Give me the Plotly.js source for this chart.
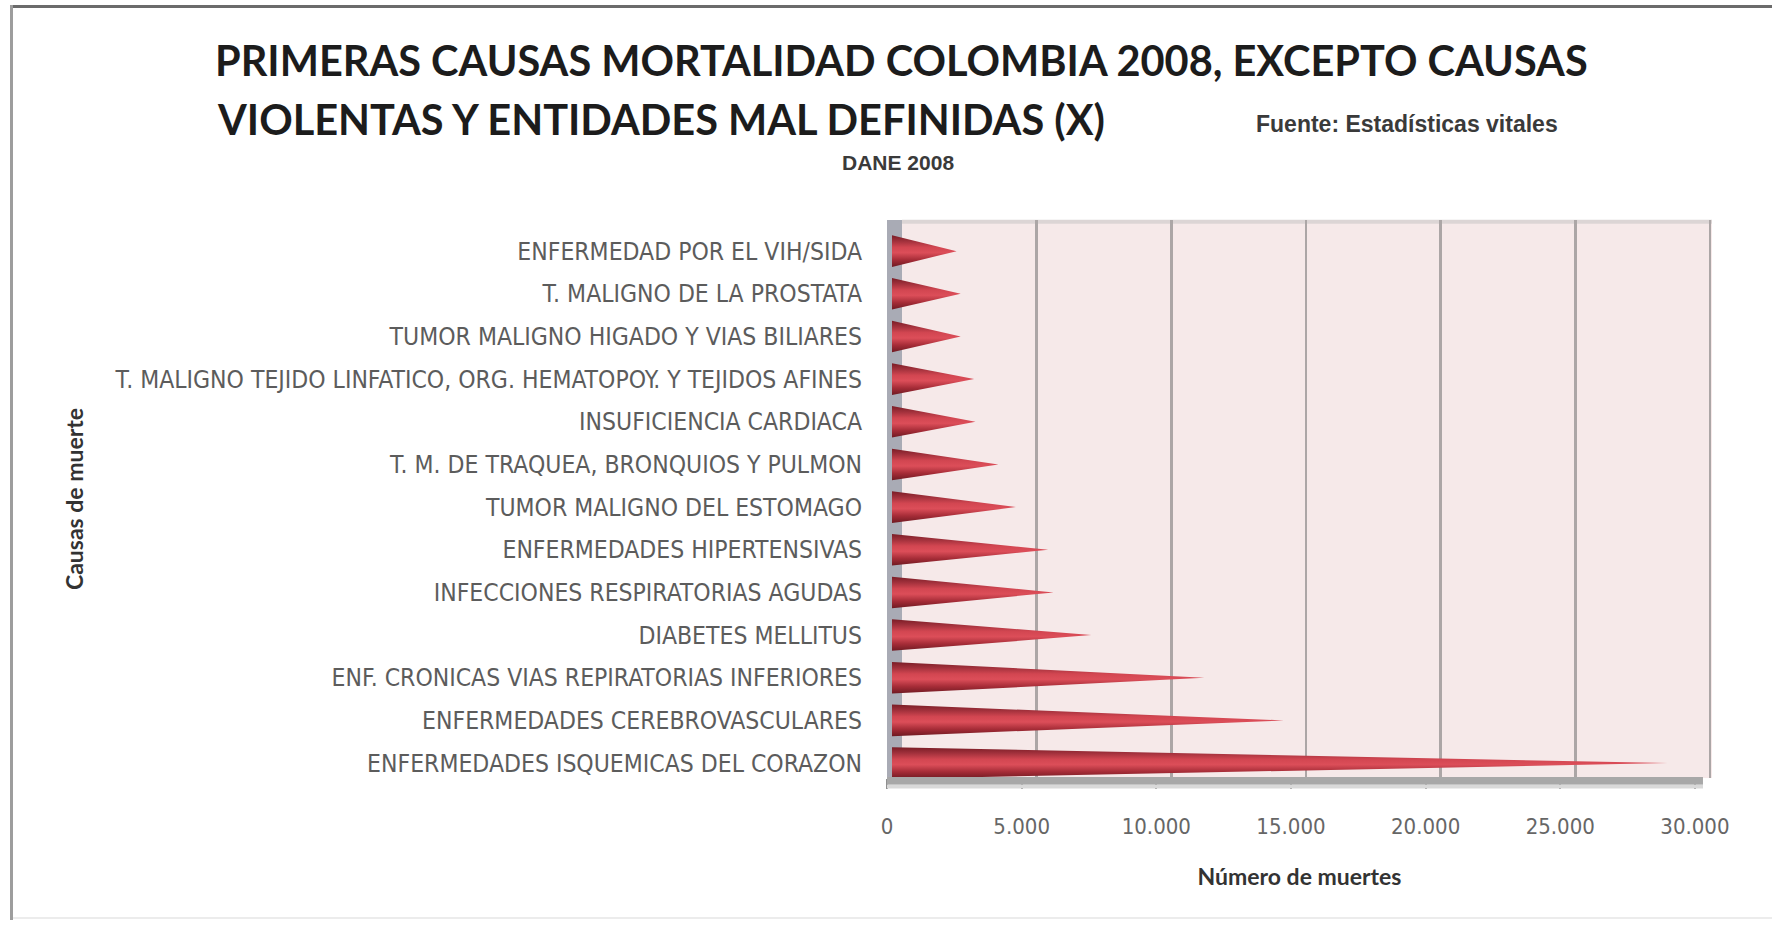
<!DOCTYPE html>
<html>
<head>
<meta charset="utf-8">
<script src="https://cdn.plot.ly/plotly-3.0.1.min.js"></script>
<style>
  html, body { margin:0; padding:0; background:#fff; }
  #wrap { position:relative; width:1772px; height:925px; overflow:hidden; }
  #chart { position:absolute; left:0; top:0; width:1772px; height:925px; }
  .frameTop { position:absolute; left:10px; top:5px; width:1762px; height:3px; background:#6b6b6b; }
  .frameLeft { position:absolute; left:10px; top:5px; width:3px; height:915px; background:#9d9d9d; }
  .frameBottom { position:absolute; left:13px; top:917px; width:1759px; height:2px; background:#ececec; }
</style>
</head>
<body>
<div id="wrap">
  <div id="chart"></div>
  <div class="frameTop"></div>
  <div class="frameLeft"></div>
  <div class="frameBottom"></div>
</div>
<script>
// ---- data ----
const categories = [
  "ENFERMEDAD POR EL VIH/SIDA",
  "T. MALIGNO DE LA PROSTATA",
  "TUMOR MALIGNO HIGADO Y VIAS BILIARES",
  "T. MALIGNO TEJIDO LINFATICO, ORG. HEMATOPOY. Y TEJIDOS AFINES",
  "INSUFICIENCIA CARDIACA",
  "T. M. DE TRAQUEA, BRONQUIOS Y PULMON",
  "TUMOR MALIGNO DEL ESTOMAGO",
  "ENFERMEDADES HIPERTENSIVAS",
  "INFECCIONES RESPIRATORIAS AGUDAS",
  "DIABETES MELLITUS",
  "ENF. CRONICAS VIAS REPIRATORIAS INFERIORES",
  "ENFERMEDADES CEREBROVASCULARES",
  "ENFERMEDADES ISQUEMICAS DEL CORAZON"
];
const deaths = [2400, 2550, 2550, 3050, 3100, 3950, 4600, 5800, 6000, 7400, 11600, 14550, 28800];
const xTickVals = [0, 5000, 10000, 15000, 20000, 25000, 30000];
const xTickText = ["0", "5.000", "10.000", "15.000", "20.000", "25.000", "30.000"];
const titleLine1 = "PRIMERAS CAUSAS MORTALIDAD COLOMBIA 2008, EXCEPTO CAUSAS";
const titleLine2 = "VIOLENTAS Y ENTIDADES MAL DEFINIDAS (X)";
const sourceText = "Fuente: Estadísticas vitales";
const subText = "DANE 2008";
const xTitle = "Número de muertes";
const yTitle = "Causas de muerte";

// ---- geometry / style ----
const halfH = 0.37;
const narrow = "'Liberation Sans Narrow', 'DejaVu Sans Condensed', 'Liberation Sans', sans-serif";
const boldFont = "Lato, 'Liberation Sans', sans-serif";
const coneScale = [
  [0, '#6f1a22'], [0.22, '#a52c37'], [0.45, '#dc4e59'],
  [0.62, '#d24651'], [0.82, '#a0303b'], [1, '#7a1d26']
];

const idx = categories.map((_, i) => i);

const traces = deaths.map((v, i) => ({
  type: 'scatter',
  mode: 'lines',
  x: [0, v, 0, 0],
  y: [i - halfH, i, i + halfH, i - halfH],
  xaxis: 'x3', yaxis: 'y',
  fill: 'toself',
  fillgradient: { type: 'vertical', colorscale: coneScale },
  line: { width: 0, color: 'rgba(0,0,0,0)' },
  name: categories[i],
  showlegend: false,
  hoverinfo: 'x+name'
}));

const layout = {
  width: 1772, height: 925,
  margin: { l: 887, r: 60, t: 220, b: 147 },
  paper_bgcolor: '#ffffff',
  plot_bgcolor: '#f6e9e9',
  font: { family: narrow, color: '#595959' },
  showlegend: false,
  title: {
    text: titleLine1,
    x: 215 / 1772, xanchor: 'left', xref: 'container',
    y: 1 - 61 / 925, yanchor: 'middle', yref: 'container',
    font: { family: boldFont, size: 41.5, weight: 700, color: '#1c1c1c' }
  },
  xaxis: {
    range: [0, 30635],
    tickvals: xTickVals, ticktext: xTickText,
    ticks: 'outside', ticklen: 10, tickwidth: 2, tickcolor: '#8f8f8f',
    ticklabelstandoff: 19,
    showgrid: false, zeroline: false, showline: false,
    tickfont: { family: narrow, size: 22, color: '#666666' },
    title: { text: xTitle, standoff: 30, font: { family: boldFont, size: 23, weight: 700, color: '#333333' } },
    fixedrange: true
  },
  xaxis2: {
    overlaying: 'x', anchor: 'y',
    range: [-557, 30078],
    tickvals: xTickVals.slice(1),
    showticklabels: false, ticks: '',
    showgrid: true, gridcolor: '#aca6a6', gridwidth: 2.5,
    zeroline: false, showline: false
  },
  xaxis3: {
    overlaying: 'x', anchor: 'y',
    range: [-186, 30449],
    visible: false
  },
  yaxis: {
    range: [12.35, -0.73],
    tickvals: idx, ticktext: categories,
    ticks: '', ticklabelstandoff: 24,
    showgrid: false, zeroline: false, showline: false,
    tickfont: { family: narrow, size: 24.5, color: '#5c5c5c' },
    title: { text: yTitle, standoff: 24, font: { family: boldFont, size: 23, weight: 700, color: '#333333' } },
    fixedrange: true
  },
  shapes: [
    { type: 'rect', xref: 'x2', yref: 'paper', x0: -557, x1: 0, y0: 0, y1: 1,
      fillcolor: '#a9abb5', line: { width: 0 }, layer: 'below' },
    { type: 'line', xref: 'x2', yref: 'paper', x0: 0, x1: 30078, y0: 0.997, y1: 0.997,
      line: { color: '#dcd5d5', width: 4 }, layer: 'below' },
    { type: 'rect', xref: 'x', yref: 'paper', x0: 0, x1: 30300, y0: -0.012, y1: 0.002,
      fillcolor: '#a8a8a8', line: { width: 0 }, layer: 'above' },
    { type: 'rect', xref: 'x', yref: 'paper', x0: 0, x1: 30300, y0: -0.019, y1: -0.012,
      fillcolor: '#d9d9d9', line: { width: 0 }, layer: 'above' }
  ],
  annotations: [
    { text: titleLine2, xref: 'paper', yref: 'paper',
      x: (215 - 887) / 825, y: (778 - 119) / 558, xanchor: 'left', yanchor: 'middle',
      showarrow: false, font: { family: boldFont, size: 41.5, weight: 700, color: '#1c1c1c' } },
    { text: sourceText, xref: 'paper', yref: 'paper',
      x: (1254 - 887) / 825, y: (778 - 124) / 558, xanchor: 'left', yanchor: 'middle',
      showarrow: false, font: { family: "'Liberation Sans', sans-serif", size: 23, weight: 700, color: '#3a3a3a' } },
    { text: subText, xref: 'paper', yref: 'paper',
      x: (898 - 887) / 825, y: (778 - 162) / 558, xanchor: 'center', yanchor: 'middle',
      showarrow: false, font: { family: "'Liberation Sans', sans-serif", size: 21, weight: 700, color: '#3a3a3a' } }
  ]
};

Plotly.newPlot('chart', traces, layout, { displayModeBar: false, staticPlot: true });
</script>
</body>
</html>
